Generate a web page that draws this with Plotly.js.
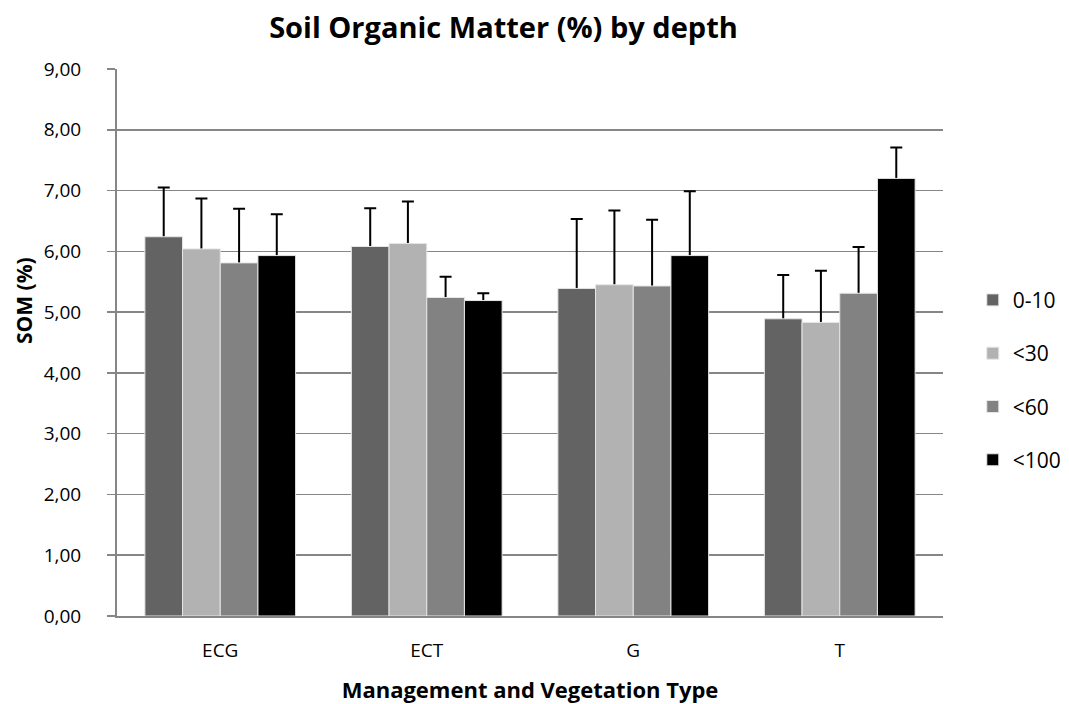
<!DOCTYPE html>
<html>
<head>
<meta charset="utf-8">
<script src="https://cdn.plot.ly/plotly-3.0.1.min.js"></script>
<style>html,body{margin:0;padding:0;background:#fff}#chart{width:1069px;height:704px}</style>
</head>
<body>
<div id="chart"></div>
<script>
const categories = ["ECG", "ECT", "G", "T"];
const seriesNames = ["0-10", "<30", "<60", "<100"];
const val_0_10 = [6.24, 6.08, 5.39, 4.89];
const val_30 = [6.04, 6.13, 5.45, 4.83];
const val_60 = [5.81, 5.24, 5.43, 5.31];
const val_100 = [5.93, 5.19, 5.93, 7.20];
const err_0_10 = [0.81, 0.63, 1.14, 0.72];
const err_30 = [0.83, 0.69, 1.22, 0.85];
const err_60 = [0.89, 0.34, 1.09, 0.76];
const err_100 = [0.68, 0.12, 1.06, 0.51];
const yTickVals = [0, 1, 2, 3, 4, 5, 6, 7, 8, 9];
const yTickText = ["0,00", "1,00", "2,00", "3,00", "4,00", "5,00", "6,00", "7,00", "8,00", "9,00"];

const colors = ["#636363", "#b2b2b2", "#828282", "#000000"];
const values = [val_0_10, val_30, val_60, val_100];
const errs = [err_0_10, err_30, err_60, err_100];
const FONT = "Open Sans, Calibri, sans-serif";
const HIDE = 0.05; // lower end of each whisker tucked inside its bar

// whisker carriers (drawn first, so the visible bars cover the lower end)
const whiskers = seriesNames.map((name, i) => ({
  type: "bar",
  name: name + " err",
  x: categories,
  y: values[i].map(v => v - HIDE),
  offsetgroup: "g" + i,
  showlegend: false,
  hoverinfo: "skip",
  marker: { color: "rgba(0,0,0,0)", line: { width: 0 } },
  error_y: {
    type: "data", symmetric: false,
    array: errs[i].map(e => e + HIDE),
    arrayminus: errs[i].map(() => 0),
    color: "#000", thickness: 2, width: 6
  }
}));

const bars = seriesNames.map((name, i) => ({
  type: "bar",
  name: name,
  x: categories,
  y: values[i],
  offsetgroup: "g" + i,
  legendgroup: "g" + i,
  marker: { color: colors[i], line: { color: "#e6e6e6", width: 1 } }
}));

const layout = {
  width: 1069, height: 704,
  margin: { l: 117, r: 126, t: 69, b: 88, autoexpand: false },
  paper_bgcolor: "#fff", plot_bgcolor: "#fff",
  font: { family: FONT, color: "#000", size: 19 },
  title: { text: "<b>Soil Organic Matter (%) by depth</b>", font: { family: FONT, size: 29, color: "#000" }, x: 0.471, xanchor: "center", y: 0.961, yanchor: "middle" },
  barmode: "group",
  bargap: 0.27,
  bargroupgap: 0,
  xaxis: {
    showline: true, linecolor: "#868686", linewidth: 2,
    ticks: "", tickfont: { family: FONT, size: 19, color: "#000" },
    ticklabelstandoff: 16,
    title: { text: "<b>Management and Vegetation Type</b>", font: { family: FONT, size: 22, color: "#000" }, standoff: 26 },
    fixedrange: true
  },
  yaxis: {
    range: [0, 9], tickvals: yTickVals, ticktext: yTickText,
    showline: true, linecolor: "#868686", linewidth: 2,
    ticks: "outside", ticklen: 8, tickcolor: "#868686", tickwidth: 1.5,
    showgrid: true, gridcolor: "#868686", gridwidth: 1.5,
    zeroline: false,
    tickfont: { family: FONT, size: 19, color: "#000" },
    ticklabelstandoff: 22,
    fixedrange: true
  },
  annotations: [{
    text: "<b>SOM (%)</b>", textangle: -90, xref: "paper", yref: "paper",
    x: (24 - 117) / (1069 - 117 - 126), xanchor: "center",
    y: (616 - 301) / (616 - 69), yanchor: "middle",
    showarrow: false, font: { family: FONT, size: 21, color: "#000" }
  }],
  legend: {
    x: 0.910, xanchor: "left", xref: "container", y: 0.431, yanchor: "middle",
    font: { family: FONT, size: 21, color: "#000" },
    traceorder: "grouped", tracegroupgap: 23,
    itemwidth: 30, bgcolor: "rgba(0,0,0,0)"
  },
  showlegend: true
};

Plotly.newPlot("chart", whiskers.concat(bars), layout, { displayModeBar: false, staticPlot: true });
</script>
</body>
</html>
